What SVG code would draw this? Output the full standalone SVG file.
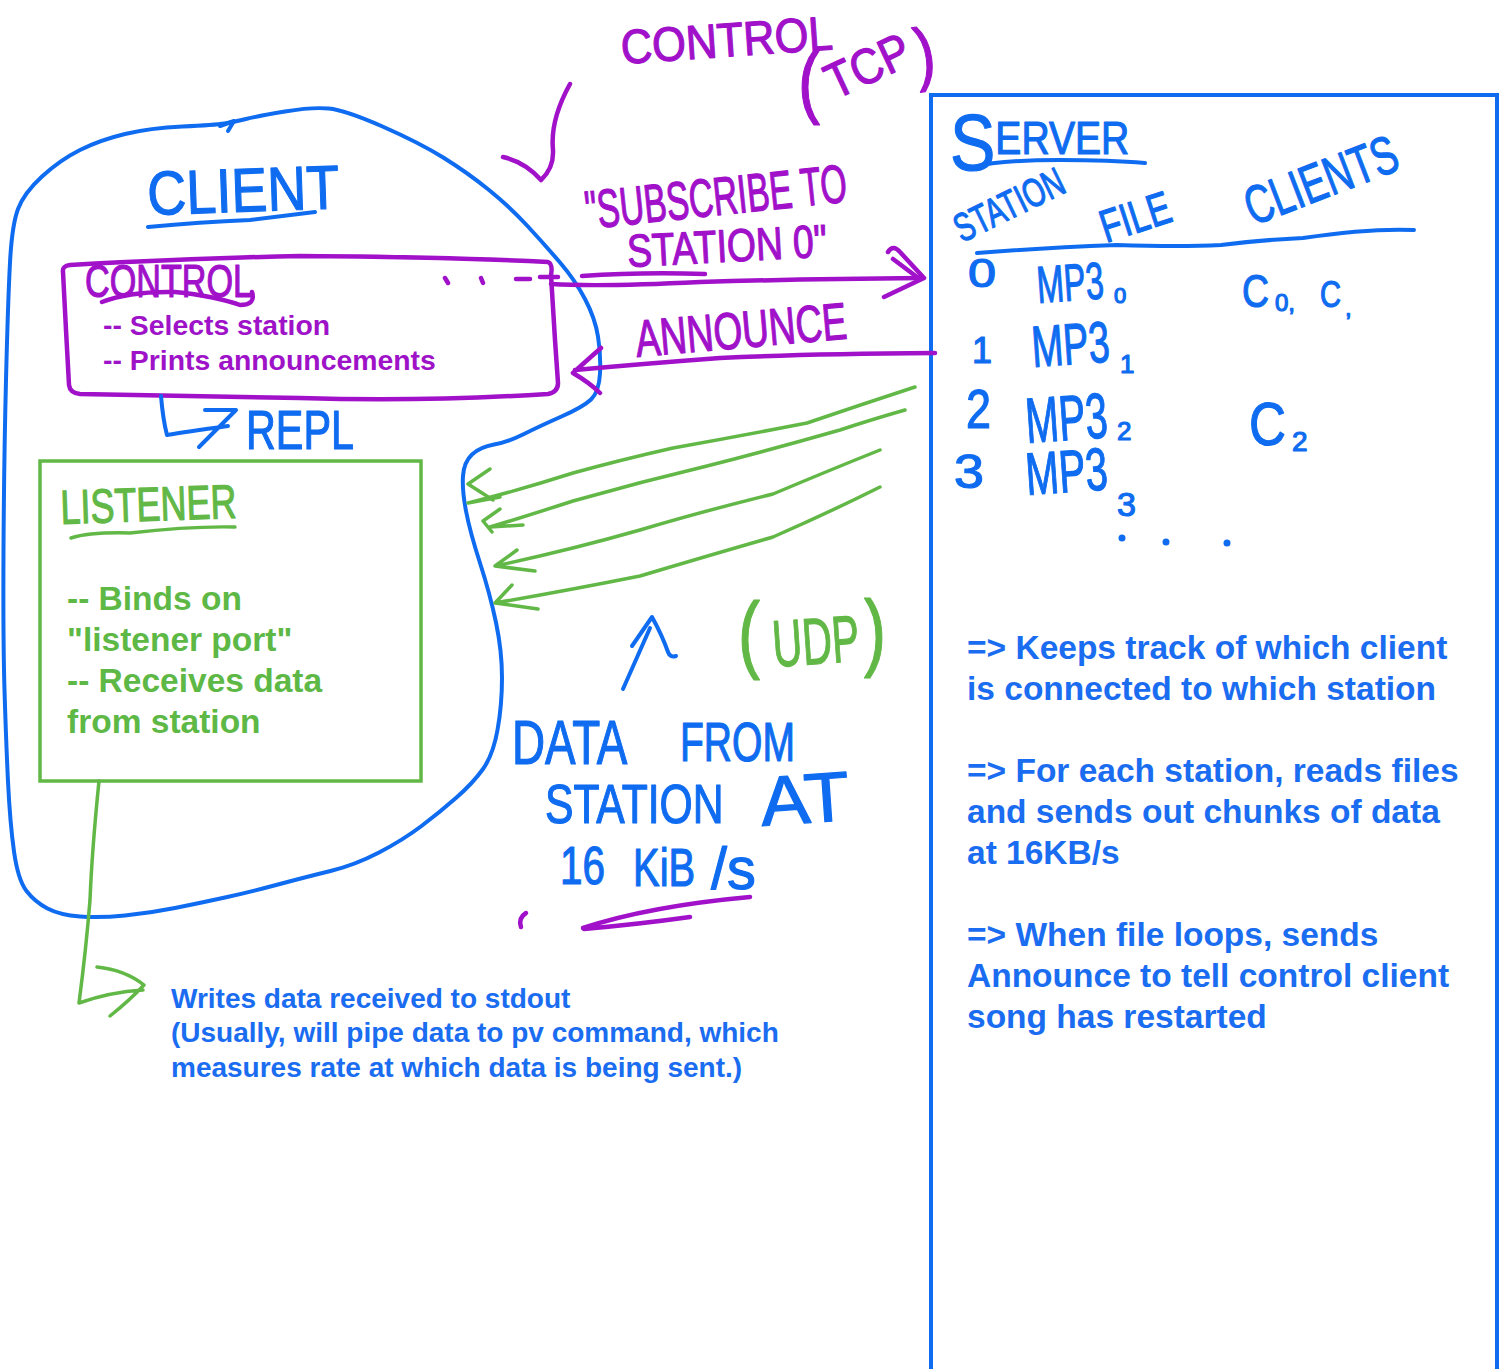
<svg xmlns="http://www.w3.org/2000/svg" width="1507" height="1369" viewBox="0 0 1507 1369">
<style>
.b{fill:none;stroke:#0f6cf0;stroke-width:4;stroke-linecap:round;stroke-linejoin:round}
.p{fill:none;stroke:#a011c9;stroke-width:4.5;stroke-linecap:round;stroke-linejoin:round}
.g{fill:none;stroke:#62b846;stroke-width:3.5;stroke-linecap:round;stroke-linejoin:round}
.h{font-family:"Liberation Sans",Arial,sans-serif;font-weight:normal;stroke-width:1.2;stroke-linejoin:round}
.hb{fill:#0f6cf0;stroke:#0f6cf0}
.hp{fill:#a011c9;stroke:#a011c9}
.hg{fill:#62b846;stroke:#62b846}
.t{font-family:"Liberation Sans",Arial,Helvetica,sans-serif;font-weight:bold}
.tb{fill:#1a6cf0}
.tp{fill:#9e12c8}
.tg{fill:#5db845}
</style>
<rect width="1507" height="1369" fill="#ffffff"/>

<g id="client">
<path class="b" d="M18,209 Q24,193 42,176.5 Q60,160 80,150 Q100,140 125,134 Q150,128 182.5,126.5 Q215,125 224.5,123.5 Q234,122 246,119 Q258,116 285,111.5 Q312,107 328.5,108.5 Q345,110 382.5,126.5 Q420,143 444,158 Q468,173 489,190 Q510,207 527.5,226 Q545,245 560,262.5 Q575,280 585,299 Q595,318 598,336.5 Q601,355 600,373.5 Q599,392 591,399.5 Q583,407 561.5,416.5 Q540,426 524,434 Q508,442 494,444.5 Q480,447 472,454.5 Q464,462 463,476 Q462,490 466,511 Q470,532 480,563 Q490,594 496,622.5 Q502,651 502,678 Q502,705 497.5,730 Q493,755 483,769 Q473,783 456.5,797.5 Q440,812 421.5,826 Q403,840 379,852.5 Q355,865 330.5,871 Q306,877 278,884.5 Q250,892 225,897.5 Q200,903 175,908 Q150,913 125,915.5 Q100,918 80,916.5 Q60,915 47.5,908.5 Q35,902 26.5,891 Q18,880 14,851.5 Q10,823 8,781.5 Q6,740 4.5,690 Q3,640 3.5,550 Q4,460 6,380 Q8,300 10,262.5 Q12,225 18,209 Z"/>
<path class="b" d="M220,126 L234,121 L228,131"/>
<text class="h hb" x="148" y="215" font-size="62" textLength="192" lengthAdjust="spacingAndGlyphs" transform="rotate(-2 148 215)">CLIENT</text>
<path class="b" d="M148,227 Q200,222 250,220 Q290,215 315,212"/>
</g>

<g id="control">
<path class="p" d="M63,272 Q62,266 70,265 Q200,258 300,256 Q450,257 548,262 Q553,264 551,275 L555,340 L558,383 Q558,392 548,394 Q420,402 300,398 Q180,396 80,394 Q70,393 69,385 L66,330 Z"/>
<text class="h hp" x="85" y="297" font-size="46" textLength="167" lengthAdjust="spacingAndGlyphs">CONTROL</text>
<path class="p" d="M102,302 Q130,291 175,292 Q215,296 240,305 Q256,305 252,292"/>
<text class="t tp" x="103" y="335" font-size="28.4">-- Selects station</text>
<text class="t tp" x="103" y="370" font-size="28.4">-- Prints announcements</text>
</g>

<g id="listener">
<rect x="40" y="461" width="381" height="320" fill="none" stroke="#62b846" stroke-width="3.5"/>
<text class="h hg" x="61" y="524" font-size="48" textLength="176" lengthAdjust="spacingAndGlyphs" transform="rotate(-2 61 524)">LISTENER</text>
<path class="g" d="M71,538 Q90,532 130,533 Q190,526 235,527"/>
<text class="t tg" x="67" y="610" font-size="33.5">-- Binds on</text>
<text class="t tg" x="67" y="651" font-size="33.5">"listener port"</text>
<text class="t tg" x="67" y="692" font-size="33.5">-- Receives data</text>
<text class="t tg" x="67" y="733" font-size="33.5">from station</text>
</g>

<g id="server">
<rect x="931" y="95" width="566" height="1290" fill="none" stroke="#0f6cf0" stroke-width="4"/>
<text class="h hb" x="0" y="0" transform="translate(950 154) scale(0.85 1)"><tspan font-size="80" dy="16">S</tspan><tspan font-size="46" dy="-16">ERVER</tspan></text>
<path class="b" d="M973,167 Q1000,160 1060,160 Q1110,160 1145,163"/>
<text class="h hb" x="962" y="243" font-size="40" textLength="118" lengthAdjust="spacingAndGlyphs" transform="rotate(-26 962 243)">STATION</text>
<text class="h hb" x="1106" y="243" font-size="46" textLength="72" lengthAdjust="spacingAndGlyphs" transform="rotate(-18 1106 243)">FILE</text>
<text class="h hb" x="1253" y="226" font-size="54" textLength="160" lengthAdjust="spacingAndGlyphs" transform="rotate(-21 1253 226)">CLIENTS</text>
<path class="b" d="M977,253 Q1040,248 1117,245 Q1180,247 1221,245 Q1260,240 1303,238 Q1370,228 1414,230"/>
<text class="h hb" x="968" y="287" font-size="40" textLength="28" lengthAdjust="spacingAndGlyphs">0</text>
<text class="h hb" x="1038" y="303" font-size="52" textLength="67" lengthAdjust="spacingAndGlyphs" transform="rotate(-4 1038 303)">MP3</text>
<text class="h hb" x="1114" y="303" font-size="22">0</text>
<text class="h hb" x="1242" y="307" font-size="46" textLength="27" lengthAdjust="spacingAndGlyphs">C</text>
<text class="h hb" x="1275" y="311" font-size="24">0,</text>
<text class="h hb" x="1320" y="307" font-size="36" textLength="21" lengthAdjust="spacingAndGlyphs">C</text>
<text class="h hb" x="1345" y="316" font-size="24">,</text>
<text class="h hb" x="972" y="363" font-size="36">1</text>
<text class="h hb" x="1033" y="367" font-size="58" textLength="78" lengthAdjust="spacingAndGlyphs" transform="rotate(-4 1033 367)">MP3</text>
<text class="h hb" x="1120" y="373" font-size="26">1</text>
<text class="h hb" x="966" y="428" font-size="55" textLength="25" lengthAdjust="spacingAndGlyphs">2</text>
<text class="h hb" x="1027" y="443" font-size="64" textLength="82" lengthAdjust="spacingAndGlyphs" transform="rotate(-4 1027 443)">MP3</text>
<text class="h hb" x="1117" y="440" font-size="26">2</text>
<text class="h hb" x="1249" y="445" font-size="62" textLength="37" lengthAdjust="spacingAndGlyphs">C</text>
<text class="h hb" x="1292" y="451" font-size="28">2</text>
<text class="h hb" x="954" y="488" font-size="48" textLength="30" lengthAdjust="spacingAndGlyphs">3</text>
<text class="h hb" x="1027" y="495" font-size="60" textLength="82" lengthAdjust="spacingAndGlyphs" transform="rotate(-4 1027 495)">MP3</text>
<text class="h hb" x="1117" y="516" font-size="34">3</text>
<circle cx="1122" cy="538" r="3.5" fill="#0f6cf0"/>
<circle cx="1166" cy="542" r="3.5" fill="#0f6cf0"/>
<circle cx="1227" cy="543" r="3.5" fill="#0f6cf0"/>
<text class="t tb" x="967" y="659" font-size="33.5">=&gt; Keeps track of which client</text>
<text class="t tb" x="967" y="700" font-size="33.5">is connected to which station</text>
<text class="t tb" x="967" y="782" font-size="33.5">=&gt; For each station, reads files</text>
<text class="t tb" x="967" y="823" font-size="33.5">and sends out chunks of data</text>
<text class="t tb" x="967" y="864" font-size="33.5">at 16KB/s</text>
<text class="t tb" x="967" y="946" font-size="33.5">=&gt; When file loops, sends</text>
<text class="t tb" x="967" y="987" font-size="33.5">Announce to tell control client</text>
<text class="t tb" x="967" y="1028" font-size="33.5">song has restarted</text>
</g>

<g id="stdout">
<text class="t tb" x="171" y="1008" font-size="28">Writes data received to stdout</text>
<text class="t tb" x="171" y="1042" font-size="28">(Usually, will pipe data to pv command, which</text>
<text class="t tb" x="171" y="1077" font-size="28">measures rate at which data is being sent.)</text>
</g>

<g id="connectors">
<path class="p" d="M570,84 Q550,120 553,150 Q554,168 541,180 M503,157 Q525,162 541,180"/>
<path class="p" d="M445,278 l3,5 M481,278 l2,5 M516,279 l14,0 M540,277 l18,0"/>
<path class="p" d="M551,284 Q600,287 700,282 Q800,279 922,278"/>
<path class="p" d="M582,276 Q640,272 705,274"/>
<path class="p" d="M888,252 Q893,244 900,252 L924,278 L884,297 M893,259 L917,277"/>
<path class="p" d="M935,353 Q800,354 720,358 Q640,364 575,370 M601,348 Q585,362 573,373 Q590,383 600,393"/>
<path class="b" d="M161,396 Q163,420 167,435 Q185,432 228,426 M205,410 L236,410 L199,447"/>
<path class="g" d="M915,387 Q860,405 807,423 Q740,436 673,448 Q620,460 573,473 Q520,490 468,503 M490,469 L468,484 L493,500 M468,503 L500,497"/>
<path class="g" d="M905,410 Q870,420 840,430 Q770,450 707,466 Q640,482 573,501 Q530,515 490,527 L523,525 M500,509 L483,521 L492,532"/>
<path class="g" d="M880,450 Q830,470 773,494 Q700,512 640,530 Q570,550 495,566 L535,571 M517,550 L495,566"/>
<path class="g" d="M880,487 Q830,512 773,537 Q700,558 640,576 Q570,590 495,603 L538,609 M512,585 L495,603"/>
<path class="g" d="M99,781 Q92,850 90,900 Q86,950 79,1003 Q110,992 143,990 M97,967 Q125,970 144,985 Q130,1000 110,1016"/>
<path class="b" d="M623,689 L650,628 M632,646 Q643,630 652,617 Q662,635 668,652 Q670,658 676,656"/>
<path class="p" d="M521,927 Q518,918 526,913 M583,928 Q650,906 750,897 M584,929 Q640,924 690,917"/>
</g>

<g id="labels">
<text class="h hp" x="622" y="64" font-size="48" textLength="212" lengthAdjust="spacingAndGlyphs" transform="rotate(-4 622 64)">CONTROL</text>
<text class="h hp" x="798" y="108" font-size="80" textLength="22" lengthAdjust="spacingAndGlyphs">(</text>
<text class="h hp" x="835" y="100" font-size="50" textLength="88" lengthAdjust="spacingAndGlyphs" transform="rotate(-25 835 100)">TCP</text>
<text class="h hp" x="918" y="78" font-size="70" textLength="20" lengthAdjust="spacingAndGlyphs" transform="rotate(-8 918 78)">)</text>
<text class="h hp" x="587" y="229" font-size="54" textLength="263" lengthAdjust="spacingAndGlyphs" transform="rotate(-6 587 229)">"SUBSCRIBE TO</text>
<text class="h hp" x="628" y="267" font-size="46" textLength="200" lengthAdjust="spacingAndGlyphs" transform="rotate(-3 628 267)">STATION 0"</text>
<text class="h hp" x="637" y="357" font-size="52" textLength="212" lengthAdjust="spacingAndGlyphs" transform="rotate(-5 637 357)">ANNOUNCE</text>
<text class="h hb" x="246" y="449" font-size="56" textLength="108" lengthAdjust="spacingAndGlyphs">REPL</text>
<text class="h hg" x="738" y="662" font-size="85" textLength="22" lengthAdjust="spacingAndGlyphs">(</text>
<text class="h hg" x="774" y="667" font-size="66" textLength="87" lengthAdjust="spacingAndGlyphs" transform="rotate(-4 774 667)">UDP</text>
<text class="h hg" x="864" y="660" font-size="85" textLength="22" lengthAdjust="spacingAndGlyphs">)</text>
<text class="h hb" x="0" y="0" font-size="62" transform="translate(512 764) scale(0.739 1)">DATA</text>
<text class="h hb" x="0" y="0" font-size="55" transform="translate(680 761) scale(0.71 1)">FROM</text>
<text class="h hb" x="0" y="0" font-size="56" transform="translate(545 823) scale(0.762 1)">STATION</text>
<text class="h hb" x="0" y="0" font-size="70" transform="translate(762 826) rotate(-4) scale(1.06 1)">AT</text>
<text class="h hb" x="0" y="0" font-size="54" transform="translate(560 884) scale(0.75 1)">16</text>
<text class="h hb" x="0" y="0" font-size="54" transform="translate(633 886) scale(0.74 1)">KiB</text>
<text class="h hb" x="0" y="0" font-size="60" transform="translate(711 889) scale(0.96 1)">/s</text>
</g>
</svg>
